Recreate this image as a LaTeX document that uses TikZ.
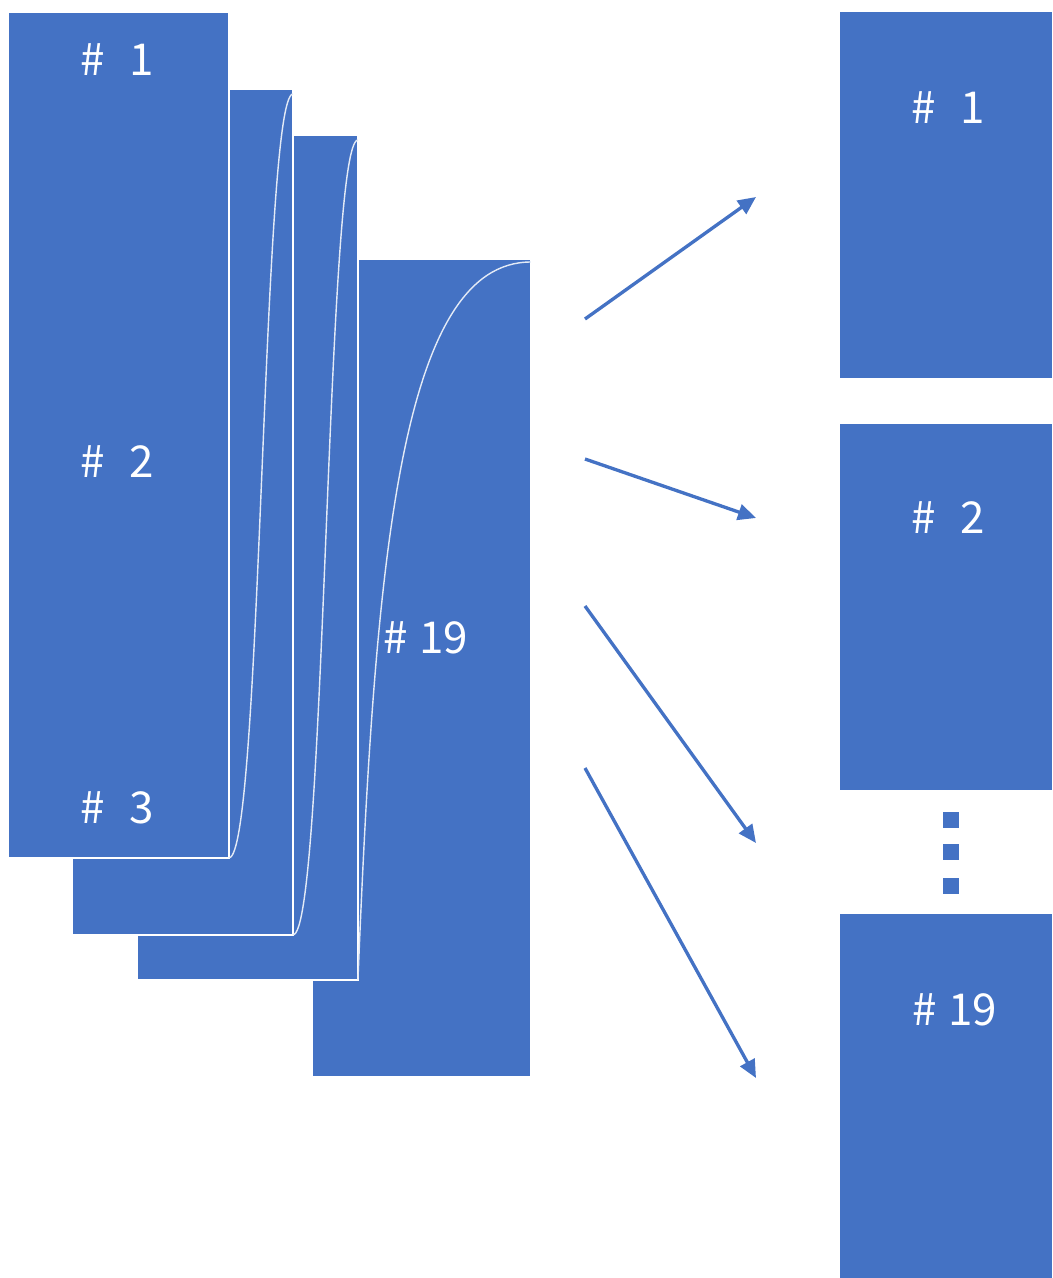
\documentclass[tikz,border=0pt]{standalone}
\usepackage{fontspec}
\setmainfont{Noto Sans CJK SC}
\usepackage{tikz}
\usetikzlibrary{arrows.meta}
\definecolor{officeblue}{HTML}{4472C4}

\begin{document}
\begin{tikzpicture}[
  x=0.02cm, y=-0.02cm,
  page/.style={fill=officeblue, draw=white, line width=0.9pt, anchor=north west, inner sep=0pt, outer sep=0pt, minimum width=4.42cm, minimum height=16.92cm},
  block/.style={fill=officeblue, anchor=north west, inner sep=0pt, outer sep=0pt, minimum width=4.24cm, minimum height=7.32cm},
  lbl/.style={text=white, font=\fontsize{25}{30}\selectfont, inner sep=0pt},
  fold/.style={draw=white!85!officeblue, line width=0.8pt},
  arr/.style={-{Triangle[length=0.36cm, width=0.32cm]}, draw=officeblue, line width=1.9pt},
  dot/.style={fill=officeblue, minimum size=0.32cm, inner sep=0pt}
]
  \useasboundingbox (0,0) rectangle (1052,1278);

  % stacked pages, back to front
  \node[page, minimum width=4.38cm, minimum height=16.36cm] (page4) at (312,259) {};
  \node[page, minimum height=16.9cm] (page3) at (137,135) {};
  \node[page] (page2) at (72,89) {};
  \node[page] (page1) at (8,12) {};

  \draw[fold] ([yshift=-0.1cm]page2.north east) .. controls (262,95) and (262,858) .. (page1.south east);
  \draw[fold] ([yshift=-0.1cm]page3.north east) .. controls (326,140) and (326,935) .. (page2.south east);
  \draw[fold] ([yshift=-0.06cm]page4.north east) .. controls (400,262) and (375,560) .. (page3.south east);

  \node[lbl] (in1) at (117,60) {\#\hspace{0.55em}1};
  \node[lbl] (in2) at (117,462) {\#\hspace{0.55em}2};
  \node[lbl] (in3) at (117,808) {\#\hspace{0.55em}3};
  \node[lbl] (in19) at (426,638) {\#\hspace{0.25em}19};

  % output blocks
  \node[block] (out1) at (840,12) {};
  \node[block] (out2) at (840,424) {};
  \node[block, minimum height=7.28cm] (out19) at (840,914) {};
  \node[lbl] at (948,108) {\#\hspace{0.55em}1};
  \node[lbl] at (948,518) {\#\hspace{0.55em}2};
  \node[lbl] at (955,1010) {\#\hspace{0.25em}19};

  \node[dot] (d1) at (951,820) {};
  \node[dot] (d2) at (951,852) {};
  \node[dot] (d3) at (951,886) {};

  % arrows
  \coordinate (s1) at (585,319); \coordinate (t1) at (756,197);
  \coordinate (s2) at (585,459); \coordinate (t2) at (756,518);
  \coordinate (s3) at (585,606); \coordinate (t3) at (756,843);
  \coordinate (s4) at (585,768); \coordinate (t4) at (756,1078);
  \draw[arr] (s1) -- (t1);
  \draw[arr] (s2) -- (t2);
  \draw[arr] (s3) -- (t3);
  \draw[arr] (s4) -- (t4);
\end{tikzpicture}
\end{document}
